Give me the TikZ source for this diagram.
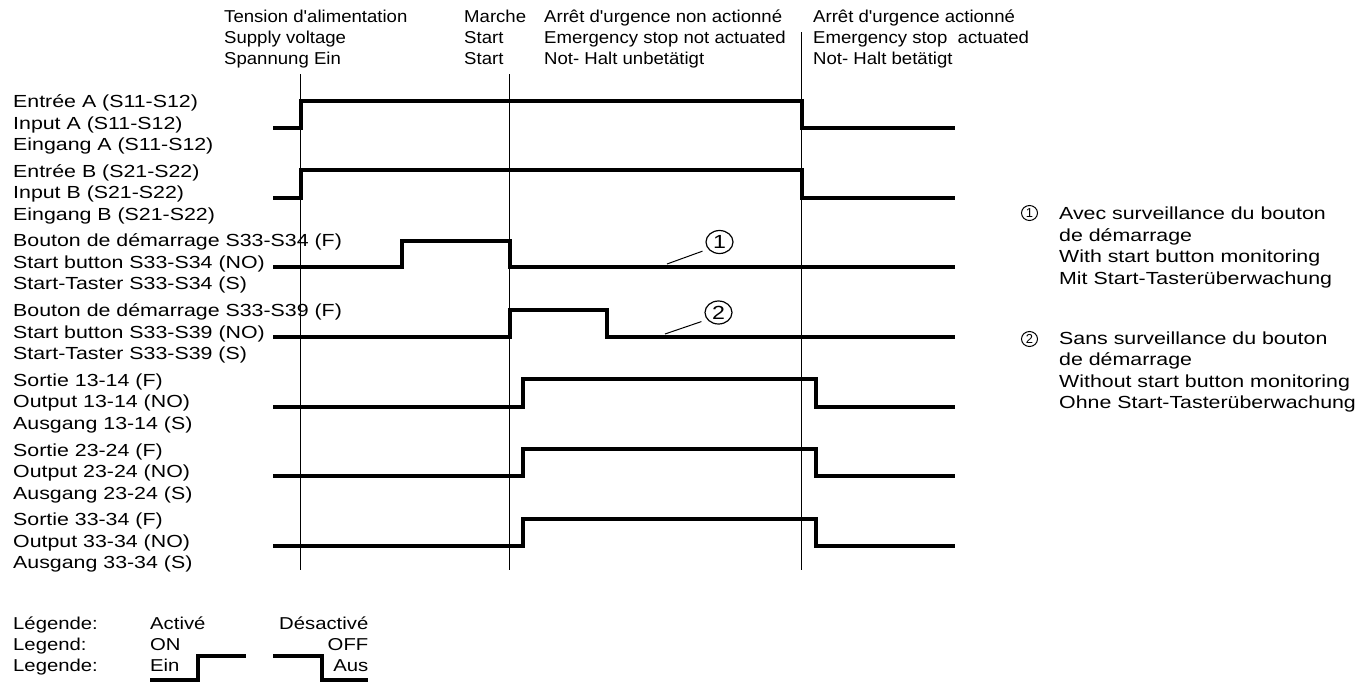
\documentclass[tikz,border=0pt]{standalone}
\usepackage{fontspec}
\setmainfont{Liberation Sans}
\newfontfamily\lblfont{Liberation Sans}[FakeStretch=1.22]
\newfontfamily\hdrfont{Liberation Sans}[FakeStretch=1.08]
\newfontfamily\legfont{Liberation Sans}[FakeStretch=1.18]
\usetikzlibrary{shapes.geometric}
\begin{document}
\begin{tikzpicture}[x=1pt,y=-1pt,
  lbl/.style={anchor=base west,inner sep=0pt,font=\lblfont\fontsize{17.5}{21}\selectfont},
  hdr/.style={anchor=base west,inner sep=0pt,font=\hdrfont\fontsize{17.2}{21}\selectfont},
  leg/.style={anchor=base west,inner sep=0pt,font=\legfont\fontsize{17.2}{21}\selectfont},
  legr/.style={leg,anchor=base east},
  sig/.style={line width=4pt},
  marker/.style={line width=1.8pt},
  leader/.style={line width=1pt,shorten >=6pt},
  bigcirc/.style={ellipse,draw,line width=1.2pt,minimum width=27pt,minimum height=23pt,inner sep=0pt,font=\lblfont\fontsize{19}{19}\selectfont},
  smallcirc/.style={ellipse,draw,line width=1pt,minimum width=16pt,minimum height=15pt,inner sep=0pt,font=\fontsize{13}{13}\selectfont}]
\useasboundingbox (0,0) rectangle (1369,683);

% header texts
\node[hdr] (h1a) at (224,22) {Tension d'alimentation};
\node[hdr] (h1b) at (224,43) {Supply voltage};
\node[hdr] (h1c) at (224,64) {Spannung Ein};
\node[hdr] (h2a) at (464,22) {Marche};
\node[hdr] (h2b) at (464,43) {Start};
\node[hdr] (h2c) at (464,64) {Start};
\node[hdr] (h3a) at (544,22) {Arrêt d'urgence non actionné};
\node[hdr] (h3b) at (544,43) {Emergency stop not actuated};
\node[hdr] (h3c) at (544,64) {Not- Halt unbetätigt};
\node[hdr] (h4a) at (813,22) {Arrêt d'urgence actionné};
\node[hdr] (h4b) at (813,43) {Emergency stop\ \ actuated};
\node[hdr] (h4c) at (813,64) {Not- Halt betätigt};

% left labels
\foreach \i/\a/\b/\c in {
  0/Entrée A (S11-S12)/Input A (S11-S12)/Eingang A (S11-S12),
  1/Entrée B (S21-S22)/Input B (S21-S22)/Eingang B (S21-S22),
  2/Bouton de démarrage S33-S34 (F)/Start button S33-S34 (NO)/Start-Taster S33-S34 (S),
  3/Bouton de démarrage S33-S39 (F)/Start button S33-S39 (NO)/Start-Taster S33-S39 (S),
  4/Sortie 13-14 (F)/Output 13-14 (NO)/Ausgang 13-14 (S),
  5/Sortie 23-24 (F)/Output 23-24 (NO)/Ausgang 23-24 (S),
  6/Sortie 33-34 (F)/Output 33-34 (NO)/Ausgang 33-34 (S)}{
  \node[lbl] (la\i) at (13,{107.5+69.7*\i}) {\a};
  \node[lbl] (lb\i) at (13,{129+69.7*\i}) {\b};
  \node[lbl] (lc\i) at (13,{150.5+69.7*\i}) {\c};
}

% event markers
\draw[marker] (300.5,74) -- (300.5,570);
\draw[marker] (509.5,74) -- (509.5,570);
\draw[marker] (801.5,32) -- (801.5,570);

% signals
\draw[sig] (273,128) -- (301,128) -- (301,100.5) -- (802,100.5) -- (802,128) -- (955,128);
\draw[sig] (273,197.7) -- (301,197.7) -- (301,170.2) -- (802,170.2) -- (802,197.7) -- (955,197.7);
\draw[sig] (273,267.3) -- (402,267.3) -- (402,240.5) -- (510,240.5) -- (510,267.3) -- (955,267.3);
\draw[sig] (273,337) -- (510,337) -- (510,309.5) -- (607,309.5) -- (607,337) -- (955,337);
\draw[sig] (273,406.7) -- (523,406.7) -- (523,379.2) -- (816,379.2) -- (816,406.7) -- (955,406.7);
\draw[sig] (273,476.3) -- (523,476.3) -- (523,448.8) -- (816,448.8) -- (816,476.3) -- (955,476.3);
\draw[sig] (273,546) -- (523,546) -- (523,518.5) -- (816,518.5) -- (816,546) -- (955,546);

% circled markers on traces
\node[bigcirc] (c1) at (719.5,242) {1};
\node[bigcirc] (c2) at (718.5,312.5) {2};
\coordinate (p1) at (667,264);
\coordinate (p2) at (665,334);
\draw[leader] (p1) -- (c1.212);
\draw[leader] (p2) -- (c2.212);

% right legend
\node[smallcirc] (k1) at (1029.5,213) {1};
\node[lbl] (r1a) at (1059,219) {Avec surveillance du bouton};
\node[lbl] (r1b) at (1059,241) {de démarrage};
\node[lbl] (r1c) at (1059,262.5) {With start button monitoring};
\node[lbl] (r1d) at (1059,284) {Mit Start-Tasterüberwachung};
\node[smallcirc] (k2) at (1029.5,339) {2};
\node[lbl] (r2a) at (1059,344) {Sans surveillance du bouton};
\node[lbl] (r2b) at (1059,365.5) {de démarrage};
\node[lbl] (r2c) at (1059,387) {Without start button monitoring};
\node[lbl] (r2d) at (1059,408.5) {Ohne Start-Tasterüberwachung};

% bottom legend
\node[leg] (g1) at (13,629) {Légende:};
\node[leg] (g2) at (13,650) {Legend:};
\node[leg] (g3) at (13,671) {Legende:};
\node[leg] (on1) at (150,629) {Activé};
\node[leg] (on2) at (150,650) {ON};
\node[leg] (on3) at (150,671) {Ein};
\node[legr] (off1) at (368.5,629) {Désactivé};
\node[legr] (off2) at (368.5,650) {OFF};
\node[legr] (off3) at (368.5,671) {Aus};
\draw[sig] (150,680) -- (198,680) -- (198,656) -- (246,656);
\draw[sig] (273,656) -- (322,656) -- (322,680) -- (368,680);
\end{tikzpicture}
\end{document}
